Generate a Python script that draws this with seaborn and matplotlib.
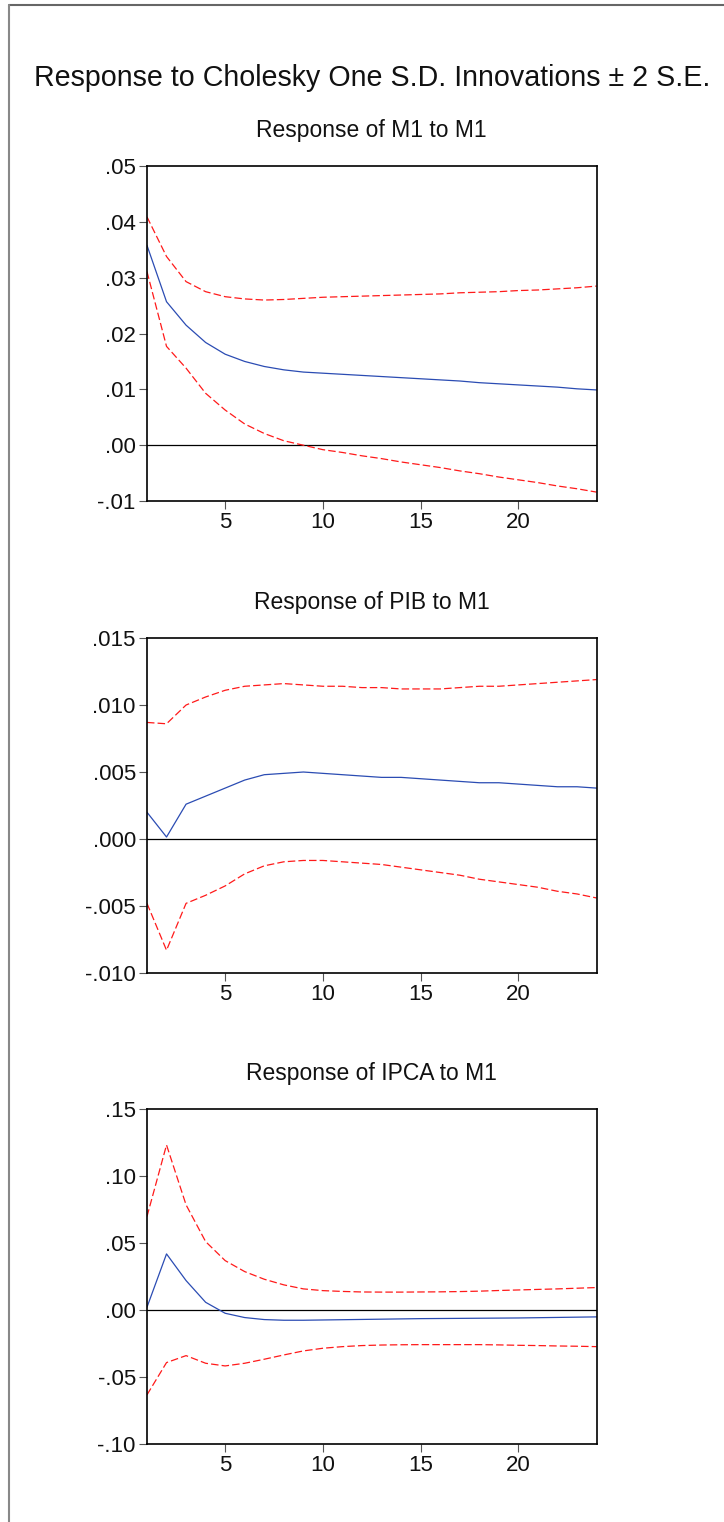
"""
Impulse responses (Cholesky one S.D. innovations +/- 2 S.E.)
"""

import matplotlib.pyplot as plt
import matplotlib.ticker as mticker
from matplotlib.lines import Line2D
import pandas as pd
import seaborn as sns


periods = list(range(1, 25))

# Response of M1 to M1
m1_resp = [0.0358, 0.0257, 0.0215, 0.0184, 0.0163, 0.0150, 0.0141, 0.0135,
           0.0131, 0.0129, 0.0127, 0.0125, 0.0123, 0.0121, 0.0119, 0.0117,
           0.0115, 0.0112, 0.0110, 0.0108, 0.0106, 0.0104, 0.0101, 0.0099]
m1_upper = [0.0409, 0.0338, 0.0293, 0.0275, 0.0266, 0.0262, 0.0260, 0.0261,
            0.0263, 0.0265, 0.0266, 0.0267, 0.0268, 0.0269, 0.0270, 0.0271,
            0.0273, 0.0274, 0.0275, 0.0277, 0.0278, 0.0280, 0.0282, 0.0285]
m1_lower = [0.0311, 0.0177, 0.0138, 0.0093, 0.0063, 0.0038, 0.0021, 0.0008,
            0.0000, -0.0008, -0.0013, -0.0019, -0.0024, -0.0030, -0.0035, -0.0040,
            -0.0046, -0.0051, -0.0057, -0.0062, -0.0067, -0.0073, -0.0078, -0.0084]

# Response of PIB to M1
pib_resp = [0.0020, 0.00015, 0.0026, 0.0032, 0.0038, 0.0044, 0.0048, 0.0049,
            0.0050, 0.0049, 0.0048, 0.0047, 0.0046, 0.0046, 0.0045, 0.0044,
            0.0043, 0.0042, 0.0042, 0.0041, 0.0040, 0.0039, 0.0039, 0.0038]
pib_upper = [0.0087, 0.0086, 0.0100, 0.0106, 0.0111, 0.0114, 0.0115, 0.0116,
             0.0115, 0.0114, 0.0114, 0.0113, 0.0113, 0.0112, 0.0112, 0.0112,
             0.0113, 0.0114, 0.0114, 0.0115, 0.0116, 0.0117, 0.0118, 0.0119]
pib_lower = [-0.0048, -0.0083, -0.0048, -0.0042, -0.0035, -0.0026, -0.0020, -0.0017,
             -0.0016, -0.0016, -0.0017, -0.0018, -0.0019, -0.0021, -0.0023, -0.0025,
             -0.0027, -0.0030, -0.0032, -0.0034, -0.0036, -0.0039, -0.0041, -0.0044]

# Response of IPCA to M1
ipca_resp = [0.0020, 0.0418, 0.0219, 0.0057, -0.0025, -0.0057, -0.0072, -0.0077,
             -0.0077, -0.0075, -0.0073, -0.0071, -0.0069, -0.0067, -0.0065, -0.0064,
             -0.0063, -0.0062, -0.0061, -0.0060, -0.0058, -0.0056, -0.0054, -0.0052]
ipca_upper = [0.0697, 0.1231, 0.0784, 0.0510, 0.0368, 0.0286, 0.0229, 0.0187,
              0.0157, 0.0144, 0.0138, 0.0134, 0.0133, 0.0133, 0.0134, 0.0135,
              0.0137, 0.0140, 0.0145, 0.0149, 0.0153, 0.0157, 0.0162, 0.0167]
ipca_lower = [-0.0634, -0.0393, -0.0341, -0.0398, -0.0418, -0.0398, -0.0368, -0.0336,
              -0.0306, -0.0286, -0.0274, -0.0266, -0.0262, -0.0260, -0.0259, -0.0259,
              -0.0259, -0.0259, -0.0261, -0.0264, -0.0266, -0.0269, -0.0271, -0.0274]

panels = [
    ("Response of M1 to M1", m1_resp, m1_upper, m1_lower, [-0.01, 0.0, 0.01, 0.02, 0.03, 0.04, 0.05], 2),
    ("Response of PIB to M1", pib_resp, pib_upper, pib_lower, [-0.010, -0.005, 0.0, 0.005, 0.010, 0.015], 3),
    ("Response of IPCA to M1", ipca_resp, ipca_upper, ipca_lower, [-0.10, -0.05, 0.0, 0.05, 0.10, 0.15], 2),
]

FONT = ["Liberation Sans", "DejaVu Sans"]


def eviews_fmt(decimals):
    def f(v, pos):
        s = f"{v:.{decimals}f}"
        if s.startswith("-0"):
            s = "-" + s[2:]
        elif s.startswith("0"):
            s = s[1:]
        return s
    return mticker.FuncFormatter(f)


def irf_panel(ax, title, resp, upper, lower, yticks, decimals):
    df = pd.DataFrame({"period": periods, "resp": resp, "upper": upper, "lower": lower})
    ax.axhline(0, color="black", lw=0.9, zorder=1)
    sns.lineplot(data=df, x="period", y="resp", ax=ax, color="#2b4cb3", lw=0.9)
    sns.lineplot(data=df, x="period", y="upper", ax=ax, color="#ff1a1a", lw=0.9,
                 linestyle=(0, (6, 2.5)))
    sns.lineplot(data=df, x="period", y="lower", ax=ax, color="#ff1a1a", lw=0.9,
                 linestyle=(0, (6, 2.5)))
    ax.set_xlim(1, 24)
    ax.set_ylim(yticks[0], yticks[-1])
    ax.set_xticks([5, 10, 15, 20])
    ax.set_yticks(yticks)
    ax.yaxis.set_major_formatter(eviews_fmt(decimals))
    ax.set_xlabel("")
    ax.set_ylabel("")
    ax.tick_params(axis="both", direction="out", length=6, width=0.8, color="#555555",
                   labelsize=16, labelcolor="#111111", pad=2,
                   top=False, right=False, left=True, bottom=True)
    for sp in ax.spines.values():
        sp.set_color("black")
        sp.set_linewidth(1.2)
    ax.set_title(title, fontsize=16.5, pad=21, color="#111111")


def main():
    sns.set_style("white")
    plt.rcParams["font.family"] = FONT

    fig = plt.figure(figsize=(7.24, 15.22), dpi=100)
    tops = [0.8909, 0.5808, 0.2714]
    for (title, resp, upper, lower, yticks, dec), top in zip(panels, tops):
        ax = fig.add_axes([0.2030, top - 0.2201, 0.6210, 0.2201])
        irf_panel(ax, title, resp, upper, lower, yticks, dec)

    fig.text(0.514, 0.9488, "Response to Cholesky One S.D. Innovations \u00b1 2 S.E.",
             ha="center", va="center", fontsize=20.6, color="#111111")

    # grey frame on top and left edge
    fig.add_artist(Line2D([0.0125, 1.0], [0.9967, 0.9967], color="#666666", lw=1.5,
                          transform=fig.transFigure))
    fig.add_artist(Line2D([0.0125, 0.0125], [0.0, 0.9967], color="#888888", lw=1.5,
                          transform=fig.transFigure))

    fig.savefig("out.png", dpi=100)


if __name__ == "__main__":
    main()
